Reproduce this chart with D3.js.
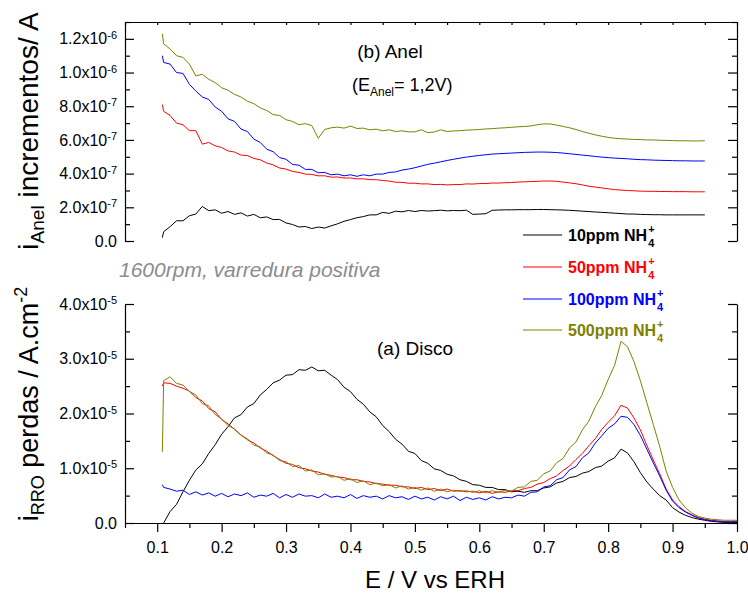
<!DOCTYPE html>
<html lang="pt">
  <head>
    <meta charset="utf-8">
    <title>Anel / Disco</title>
    <script type="text/javascript" src="https://cdnjs.cloudflare.com/ajax/libs/d3/7.8.5/d3.min.js"></script>
    <style>
      body { margin: 0; background: #fff; }
      svg { font-family: "Liberation Sans", Arial, sans-serif; }
      .axis path, .axis line { stroke: #000; stroke-width: 1.2px; }
      .axis text { font-size: 16px; fill: #000; }
    </style>
  </head>
  <body>
    <div id="chartDiv"></div>
    <script>
      // potentials (V vs ERH)
      var E = [0.108,0.11,0.12,0.13,0.14,0.15,0.16,0.17,0.18,0.19,
               0.20,0.21,0.22,0.23,0.24,0.25,0.26,0.27,0.28,0.29,
               0.30,0.31,0.32,0.33,0.34,0.35,0.36,0.37,0.38,0.39,
               0.40,0.41,0.42,0.43,0.44,0.45,0.46,0.47,0.48,0.49,
               0.50,0.51,0.52,0.53,0.54,0.55,0.56,0.57,0.58,0.59,
               0.60,0.61,0.62,0.63,0.64,0.65,0.66,0.67,0.68,0.69,
               0.70,0.71,0.72,0.73,0.74,0.75,0.76,0.77,0.78,0.79,
               0.80,0.81,0.82,0.83,0.84,0.85,0.86,0.87,0.88,0.89,
               0.90,0.91,0.92,0.93,0.94,0.95,0.96,0.97,0.98,0.99,1.00]

      // (b) Anel, in 1e-7 A  (0.108 .. 0.95)
      var anel10 = [0.2,0.55,0.85,1.2,1.2,1.5,1.6,2.05,1.8,1.85,
                    1.65,1.75,1.58,1.67,1.48,1.58,1.38,1.43,1.27,1.28,
                    1.07,0.98,0.83,0.86,0.74,0.83,0.77,0.9,1.02,1.17,
                    1.27,1.38,1.45,1.55,1.55,1.7,1.64,1.77,1.73,1.81,
                    1.75,1.81,1.78,1.8,1.83,1.79,1.81,1.8,1.83,1.58,
                    1.6,1.62,1.82,1.84,1.85,1.85,1.86,1.86,1.86,1.87,
                    1.87,1.86,1.85,1.84,1.82,1.8,1.77,1.75,1.72,1.7,
                    1.68,1.65,1.63,1.6,1.6,1.58,1.57,1.56,1.56,1.55,
                    1.55,1.55,1.55,1.55,1.55,1.55]
      var anel50 = [8.1,7.7,7.45,7.0,6.9,6.55,6.55,5.75,5.85,5.65,
                    5.55,5.35,5.28,5.1,5.07,4.9,4.82,4.63,4.52,4.33,
                    4.27,4.13,4.07,3.97,3.95,3.87,3.87,3.79,3.8,3.74,
                    3.74,3.69,3.69,3.64,3.64,3.59,3.56,3.49,3.48,3.43,
                    3.43,3.39,3.39,3.35,3.36,3.33,3.35,3.35,3.39,3.38,
                    3.41,3.41,3.44,3.44,3.46,3.47,3.5,3.51,3.53,3.54,
                    3.56,3.56,3.54,3.5,3.45,3.4,3.33,3.25,3.2,3.15,
                    3.1,3.05,3.02,3.0,2.98,2.96,2.95,2.95,2.94,2.94,
                    2.93,2.93,2.93,2.92,2.92,2.92]
      var anel100 = [11.0,10.6,10.5,10.0,9.95,9.3,8.9,8.55,8.4,7.95,
                     7.7,7.25,7.1,6.65,6.5,6.05,5.85,5.45,5.3,4.95,
                     4.85,4.55,4.5,4.25,4.25,4.05,4.07,3.93,3.97,3.87,
                     3.93,3.84,3.93,3.87,3.97,3.97,4.07,4.1,4.21,4.27,
                     4.35,4.45,4.55,4.62,4.7,4.78,4.85,4.92,4.98,5.03,
                     5.08,5.12,5.16,5.18,5.2,5.22,5.24,5.26,5.27,5.28,
                     5.28,5.27,5.25,5.22,5.18,5.14,5.1,5.06,5.02,4.98,
                     4.95,4.92,4.9,4.88,4.85,4.83,4.82,4.8,4.79,4.78,
                     4.77,4.76,4.76,4.75,4.75,4.75]
      var anel500 = [12.3,11.7,11.4,11.0,10.9,10.5,9.8,9.9,9.6,9.4,
                     9.1,8.95,8.7,8.55,8.3,8.15,7.9,7.75,7.5,7.45,
                     7.2,7.1,6.9,6.97,6.85,6.1,6.62,6.72,6.76,6.7,
                     6.82,6.68,6.7,6.6,6.64,6.54,6.6,6.5,6.54,6.48,
                     6.48,6.6,6.43,6.47,6.6,6.5,6.53,6.55,6.58,6.6,
                     6.62,6.65,6.67,6.7,6.72,6.75,6.78,6.8,6.83,6.9,
                     6.95,6.95,6.88,6.8,6.72,6.62,6.5,6.4,6.3,6.22,
                     6.15,6.1,6.07,6.05,6.03,6.02,6.0,6.0,5.98,5.97,
                     5.96,5.95,5.95,5.94,5.94,5.95]

      // (a) Disco, in 1e-5 A.cm-2  (0.108 .. 1.00)
      var disco10 = [null,0.0,0.21,0.34,0.57,0.78,0.97,1.08,1.27,1.43,
                     1.62,1.76,1.92,1.98,2.12,2.18,2.34,2.44,2.56,2.61,
                     2.7,2.71,2.8,2.79,2.85,2.78,2.79,2.7,2.62,2.48,
                     2.4,2.26,2.17,2.03,1.94,1.78,1.67,1.53,1.44,1.31,
                     1.27,1.14,1.09,0.99,0.96,0.89,0.86,0.79,0.76,0.7,
                     0.69,0.65,0.65,0.61,0.61,0.57,0.58,0.56,0.59,0.59,
                     0.64,0.66,0.73,0.76,0.83,0.85,0.91,0.94,1.01,1.04,
                     1.13,1.19,1.35,1.28,1.12,0.92,0.75,0.62,0.5,0.42,
                     0.28,0.2,0.14,0.1,0.07,0.05,0.03,0.02,0.01,0.01,0.01]
      var disco50 = [2.5,2.56,2.55,2.5,2.46,2.41,2.29,2.23,2.09,2.03,
                     1.89,1.81,1.71,1.61,1.52,1.46,1.37,1.31,1.23,1.16,
                     1.09,1.07,1.01,0.99,0.95,0.93,0.89,0.87,0.84,0.83,
                     0.79,0.79,0.76,0.75,0.72,0.71,0.69,0.69,0.66,0.66,
                     0.63,0.65,0.61,0.63,0.59,0.62,0.58,0.59,0.57,0.58,
                     0.55,0.58,0.54,0.57,0.56,0.59,0.59,0.63,0.65,0.71,
                     0.74,0.81,0.86,0.96,1.04,1.16,1.27,1.41,1.54,1.71,
                     1.84,1.96,2.15,2.1,1.92,1.7,1.42,1.15,0.9,0.62,
                     0.42,0.3,0.21,0.15,0.1,0.07,0.05,0.04,0.03,0.03,0.03]
      var disco100 = [0.7,0.65,0.62,0.58,0.6,0.52,0.57,0.51,0.55,0.49,
                      0.54,0.48,0.53,0.5,0.55,0.47,0.51,0.49,0.54,0.46,
                      0.52,0.47,0.53,0.49,0.5,0.46,0.53,0.47,0.49,0.46,
                      0.52,0.45,0.5,0.47,0.49,0.44,0.5,0.46,0.48,0.43,
                      0.49,0.44,0.47,0.42,0.48,0.44,0.49,0.41,0.47,0.43,
                      0.46,0.42,0.48,0.44,0.47,0.46,0.51,0.49,0.56,0.57,
                      0.66,0.68,0.79,0.83,0.97,1.03,1.19,1.28,1.46,1.59,
                      1.73,1.81,1.95,1.93,1.8,1.6,1.35,1.1,0.86,0.6,
                      0.4,0.28,0.2,0.14,0.09,0.06,0.04,0.03,0.02,0.02,0.02]
      var disco500 = [1.3,2.6,2.67,2.55,2.52,2.4,2.34,2.18,2.14,1.98,
                      1.9,1.78,1.72,1.6,1.54,1.42,1.39,1.28,1.24,1.14,
                      1.12,1.03,1.05,0.95,0.97,0.88,0.9,0.84,0.85,0.78,
                      0.81,0.74,0.77,0.7,0.73,0.68,0.7,0.64,0.68,0.62,
                      0.65,0.6,0.64,0.58,0.62,0.57,0.6,0.58,0.59,0.56,
                      0.59,0.55,0.59,0.56,0.6,0.58,0.65,0.66,0.76,0.78,
                      0.9,0.95,1.1,1.18,1.37,1.48,1.7,1.86,2.12,2.33,
                      2.62,2.88,3.32,3.22,2.95,2.6,2.2,1.8,1.4,0.95,
                      0.65,0.42,0.28,0.18,0.12,0.09,0.07,0.06,0.05,0.05,0.05]

      var names = ["10ppm NH", "50ppm NH", "100ppm NH", "500ppm NH"]
      var colors = ["#000000", "#ff0000", "#0000ff", "#808000"]
      var anelSeries = [anel10, anel50, anel100, anel500]
      var discoSeries = [disco10, disco50, disco100, disco500]

      var xTicks = [0.1,0.2,0.3,0.4,0.5,0.6,0.7,0.8,0.9,1.0]
      var xMinor = [0.05,0.15,0.25,0.35,0.45,0.55,0.65,0.75,0.85,0.95]
      var topTicks = [0,2,4,6,8,10,12]
      var topMinor = [1,3,5,7,9,11,13]
      var topLabels = [["0.0",""],["2.0x10","-7"],["4.0x10","-7"],["6.0x10","-7"],
                       ["8.0x10","-7"],["1.0x10","-6"],["1.2x10","-6"]]
      var botTicks = [0,1,2,3,4]
      var botMinor = [0.5,1.5,2.5,3.5]
      var botLabels = [["0.0",""],["1.0x10","-5"],["2.0x10","-5"],["3.0x10","-5"],["4.0x10","-5"]]

      var W = 748, H = 595
      var xL = 125, xR = 737

      var svg = d3.select("#chartDiv").append("svg")
          .attr("width", W).attr("height", H)

      var x = d3.scaleLinear().domain([0.05, 1.0]).range([xL, xR])
      var yTop = d3.scaleLinear().domain([0, 13]).range([241, 22])
      var yBot = d3.scaleLinear().domain([0, 4]).range([523, 304])

      var noLabel = function() { return "" }

      function leftAxis(scale, ticks, minor, labels) {
        var gm = svg.append("g").attr("class", "axis")
            .attr("transform", "translate(" + xL + ",0)")
            .call(d3.axisLeft(scale).tickValues(minor).tickSize(-5).tickSizeOuter(0).tickFormat(noLabel))
        gm.select(".domain").remove()
        var g = svg.append("g").attr("class", "axis")
            .attr("transform", "translate(" + xL + ",0)")
            .call(d3.axisLeft(scale).tickValues(ticks).tickSize(-9).tickSizeOuter(0)
                  .tickPadding(8).tickFormat(noLabel))
        g.selectAll(".tick text").each(function(d, i) {
          var t = d3.select(this)
          t.append("tspan").text(labels[i][0])
          if (labels[i][1]) {
            t.append("tspan").attr("dy", "-0.5em").attr("font-size", "11px").text(labels[i][1])
          }
        })
      }

      function rightAxis(scale, ticks, minor) {
        var gm = svg.append("g").attr("class", "axis")
            .attr("transform", "translate(" + xR + ",0)")
            .call(d3.axisRight(scale).tickValues(minor).tickSize(-5).tickSizeOuter(0).tickFormat(noLabel))
        gm.select(".domain").remove()
        svg.append("g").attr("class", "axis")
            .attr("transform", "translate(" + xR + ",0)")
            .call(d3.axisRight(scale).tickValues(ticks).tickSize(-9).tickSizeOuter(0).tickFormat(noLabel))
      }

      leftAxis(yTop, topTicks, topMinor, topLabels)
      rightAxis(yTop, topTicks, topMinor)
      leftAxis(yBot, botTicks, botMinor, botLabels)
      rightAxis(yBot, botTicks, botMinor)

      // top frame line with small inward ticks
      svg.append("g").attr("class", "axis")
          .attr("transform", "translate(0," + yTop.range()[1] + ")")
          .call(d3.axisTop(x).tickValues(xTicks.concat(xMinor)).tickSize(-3).tickSizeOuter(0).tickFormat(noLabel))

      // bottom x axis
      var gxm = svg.append("g").attr("class", "axis")
          .attr("transform", "translate(0," + yBot.range()[0] + ")")
          .call(d3.axisBottom(x).tickValues(xMinor).tickSize(5).tickSizeOuter(0).tickFormat(noLabel))
      gxm.select(".domain").remove()
      svg.append("g").attr("class", "axis")
          .attr("transform", "translate(0," + yBot.range()[0] + ")")
          .call(d3.axisBottom(x).tickValues(xTicks).tickSize(9).tickSizeOuter(0)
                .tickPadding(10).tickFormat(d3.format(".1f")))

      // curves
      function drawCurves(seriesList, yScale, n) {
        var line = d3.line()
            .defined(function(d) { return d[1] != null })
            .x(function(d) { return x(d[0]) })
            .y(function(d) { return yScale(d[1]) })
        seriesList.forEach(function(vals, k) {
          var pts = vals.slice(0, n).map(function(v, i) { return [E[i], v] })
          svg.append("path")
             .datum(pts)
             .attr("d", line)
             .attr("fill", "none")
             .attr("stroke", colors[k])
             .attr("stroke-width", 1)
             .attr("stroke-linejoin", "round")
        })
      }
      drawCurves(discoSeries, yBot, E.length)
      drawCurves(anelSeries, yTop, anel10.length)

      // axis titles
      var t1 = svg.append("text")
          .attr("transform", "translate(38,131) rotate(-90)")
          .attr("text-anchor", "middle")
          .attr("font-size", "28px")
      t1.append("tspan").text("i")
      t1.append("tspan").attr("font-size", "19px").attr("dy", "6").text("Anel")
      t1.append("tspan").attr("dy", "-6").text(" incrementos/ A")

      var t2 = svg.append("text")
          .attr("transform", "translate(38,404) rotate(-90)")
          .attr("text-anchor", "middle")
          .attr("font-size", "27px")
      t2.append("tspan").text("i")
      t2.append("tspan").attr("font-size", "18px").attr("dy", "6").text("RRO")
      t2.append("tspan").attr("dy", "-6").text(" perdas / A.cm")
      t2.append("tspan").attr("font-size", "18px").attr("dy", "-11").text("-2")

      svg.append("text")
          .attr("x", 435).attr("y", 588)
          .attr("text-anchor", "middle")
          .attr("font-size", "24px")
          .text("E / V vs ERH")

      // annotations
      svg.append("text")
          .attr("x", 390).attr("y", 58)
          .attr("text-anchor", "middle")
          .attr("font-size", "19px")
          .text("(b) Anel")
      var ta = svg.append("text")
          .attr("x", 352).attr("y", 91)
          .attr("font-size", "18px")
      ta.append("tspan").text("(E")
      ta.append("tspan").attr("font-size", "12px").attr("dy", "5").text("Anel")
      ta.append("tspan").attr("dy", "-5").text("= 1,2V)")

      svg.append("text")
          .attr("x", 415).attr("y", 355)
          .attr("text-anchor", "middle")
          .attr("font-size", "19px")
          .text("(a) Disco")

      svg.append("text")
          .attr("x", 119).attr("y", 277)
          .attr("font-size", "21px")
          .attr("font-style", "italic")
          .attr("fill", "#8c8c8c")
          .text("1600rpm, varredura positiva")

      // legend
      var legY = [235, 267, 299, 330]
      names.forEach(function(nm, k) {
        svg.append("line")
           .attr("x1", 523).attr("x2", 562)
           .attr("y1", legY[k]).attr("y2", legY[k])
           .attr("stroke", colors[k]).attr("stroke-width", 1)
        var tx = svg.append("text")
           .attr("x", 568).attr("y", legY[k] + 6)
           .attr("font-size", "16px").attr("font-weight", "bold")
           .attr("fill", colors[k])
           .text(nm)
        var w = tx.node().getComputedTextLength()
        svg.append("text")
           .attr("x", 568 + w + 1).attr("y", legY[k] - 2)
           .attr("font-size", "11px").attr("font-weight", "bold")
           .attr("fill", colors[k]).text("+")
        svg.append("text")
           .attr("x", 568 + w + 1).attr("y", legY[k] + 12)
           .attr("font-size", "11px").attr("font-weight", "bold")
           .attr("fill", colors[k]).text("4")
      })
    </script>
  </body>
</html>
